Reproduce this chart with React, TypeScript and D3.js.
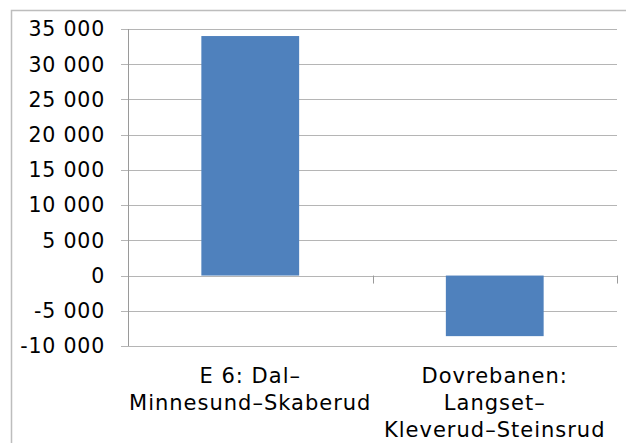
import React, { useEffect, useRef } from 'react';
import * as d3 from 'd3';

const categories = [
  ['E 6: Dal–', 'Minnesund–Skaberud'],
  ['Dovrebanen:', 'Langset–', 'Kleverud–Steinsrud'],
];
const values = [34000, -8600];
const yTicks = [-10000, -5000, 0, 5000, 10000, 15000, 20000, 25000, 30000, 35000];

const fmt = (v: number) => {
  const s = d3.format(',')(Math.abs(v)).replace(/,/g, ' ');
  return v < 0 ? '-' + s : s;
};

const App: React.FC = () => {
  const svgRef = useRef<SVGSVGElement | null>(null);

  useEffect(() => {
    if (!svgRef.current) return;
    const svg = d3.select(svgRef.current);
    svg.selectAll('*').remove();

    const width = 626;
    const height = 443;
    const margin = { top: 29, right: 9, bottom: 97, left: 128 };
    const font = 'DejaVu Sans, Verdana, sans-serif';

    // outer chart border
    svg.append('rect')
      .attr('x', 11.5).attr('y', 10.5)
      .attr('width', width + 20).attr('height', height + 20)
      .attr('fill', 'white')
      .attr('stroke', '#bdbdbd')
      .attr('stroke-width', 1.5);

    const idx = categories.map((_, i) => String(i));
    const x = d3.scaleBand()
      .domain(idx)
      .range([margin.left, width - margin.right])
      .paddingInner(0.6)
      .paddingOuter(0.3);

    const y = d3.scaleLinear()
      .domain([-10000, 35000])
      .range([height - margin.bottom, margin.top]);

    // gridlines with little tick marks
    svg.append('g')
      .selectAll('line')
      .data(yTicks)
      .join('line')
      .attr('x1', margin.left - 7).attr('x2', width - margin.right)
      .attr('y1', d => Math.round(y(d)) + 0.5).attr('y2', d => Math.round(y(d)) + 0.5)
      .attr('stroke', '#b5b5b5');

    // y axis line
    svg.append('line')
      .attr('x1', margin.left + 0.5).attr('x2', margin.left + 0.5)
      .attr('y1', y(35000)).attr('y2', y(-10000))
      .attr('stroke', '#9a9a9a');

    // y labels
    svg.append('g')
      .selectAll('text')
      .data(yTicks)
      .join('text')
      .attr('x', 105)
      .attr('y', d => y(d))
      .attr('dy', '0.36em')
      .attr('text-anchor', 'end')
      .attr('font-family', font)
      .attr('font-size', 20.5)
      .attr('letter-spacing', 0.8)
      .attr('fill', '#000')
      .text(d => fmt(d));

    // bars
    svg.append('g')
      .selectAll('rect')
      .data(values)
      .join('rect')
      .attr('x', (_, i) => x(String(i))!)
      .attr('width', x.bandwidth())
      .attr('y', d => y(Math.max(0, d)))
      .attr('height', d => Math.abs(y(d) - y(0)))
      .attr('fill', '#4F81BD');

    // category tick marks on the zero line
    const mid = (margin.left + width - margin.right) / 2;
    [mid, width - margin.right].forEach(tx => {
      svg.append('line')
        .attr('x1', Math.round(tx) + 0.5).attr('x2', Math.round(tx) + 0.5)
        .attr('y1', y(0)).attr('y2', y(0) + 8)
        .attr('stroke', '#9a9a9a');
    });

    // category labels
    const centers = [
      (margin.left + mid) / 2,
      (mid + width - margin.right) / 2,
    ];
    categories.forEach((lines, i) => {
      const t = svg.append('text')
        .attr('text-anchor', 'middle')
        .attr('font-family', font)
        .attr('font-size', 21)
        .attr('letter-spacing', 1)
        .attr('fill', '#000');
      lines.forEach((l, j) => {
        t.append('tspan')
          .attr('x', centers[i])
          .attr('y', 383 + j * 27)
          .text(l);
      });
    });
  }, []);

  return (
    <svg ref={svgRef} width={626} height={443}
      style={{ position: 'absolute', left: 0, top: 0, display: 'block' }} />
  );
};

export default App;
